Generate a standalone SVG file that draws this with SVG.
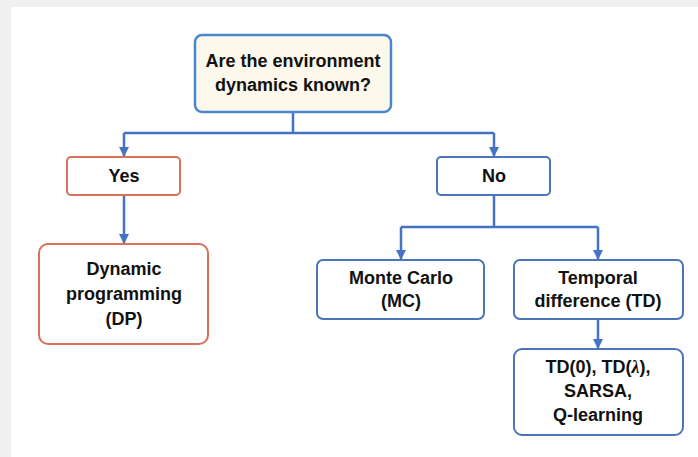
<svg xmlns="http://www.w3.org/2000/svg" width="698" height="457" viewBox="0 0 698 457">
<style>
.t{font-family:"Liberation Sans",Arial,sans-serif;font-weight:bold;font-size:18px;fill:#111;text-anchor:middle}
.blue{fill:#fff;stroke:#4a76b8;stroke-width:2}
.red{fill:#fff;stroke:#d9705a;stroke-width:2}
.c{fill:none;stroke:#4472c4;stroke-width:2.5}
</style>
<defs>
<marker id="ah" viewBox="0 0 10 10" refX="10" refY="5" markerWidth="4" markerHeight="4" orient="auto" markerUnits="strokeWidth">
<path d="M0,0 L10,5 L0,10 z" fill="#4472c4"/>
</marker>
</defs>
<rect x="0" y="0" width="698" height="457" fill="#f0f0f0"/>
<rect x="11" y="7" width="687" height="450" fill="#fff"/>
<g id="connectors">
<path class="c" d="M293,113 V133"/>
<path class="c" d="M124,133 H494" />
<path class="c" d="M124,133 V157" marker-end="url(#ah)"/>
<path class="c" d="M494,133 V157" marker-end="url(#ah)"/>
<path class="c" d="M124,195 V244" marker-end="url(#ah)"/>
<path class="c" d="M494,195 V227"/>
<path class="c" d="M401,227 H598"/>
<path class="c" d="M401,227 V260" marker-end="url(#ah)"/>
<path class="c" d="M598,227 V260" marker-end="url(#ah)"/>
<path class="c" d="M598,319 V349" marker-end="url(#ah)"/>
</g>
<g id="n-question">
<rect x="195" y="35" width="196" height="77" rx="7" fill="#fdf8ec" stroke="#4a86c8" stroke-width="2.5"/>
<text class="t" x="293" y="67">Are the environment</text>
<text class="t" x="293" y="91">dynamics known?</text>
</g>
<g id="n-yes">
<rect class="red" x="67" y="157" width="113" height="38" rx="4"/>
<text class="t" x="124" y="182">Yes</text>
</g>
<g id="n-no">
<rect class="blue" x="437" y="157" width="113" height="38" rx="4"/>
<text class="t" x="494" y="182">No</text>
</g>
<g id="n-dp">
<rect class="red" x="39" y="244" width="169" height="100" rx="9"/>
<text class="t" x="124" y="275">Dynamic</text>
<text class="t" x="124" y="300">programming</text>
<text class="t" x="124" y="325">(DP)</text>
</g>
<g id="n-mc">
<rect class="blue" x="317" y="260" width="167" height="59" rx="6"/>
<text class="t" x="401" y="284">Monte Carlo</text>
<text class="t" x="401" y="307">(MC)</text>
</g>
<g id="n-td">
<rect class="blue" x="514" y="260" width="169" height="59" rx="6"/>
<text class="t" x="598" y="284">Temporal</text>
<text class="t" x="598" y="307">difference (TD)</text>
</g>
<g id="n-algos">
<rect class="blue" x="514" y="349" width="169" height="86" rx="8"/>
<text class="t" x="598" y="373">TD(0), TD(<tspan font-style="italic" font-family="'Liberation Serif',serif">λ</tspan>),</text>
<text class="t" x="598" y="397">SARSA,</text>
<text class="t" x="598" y="421">Q-learning</text>
</g>
</svg>
